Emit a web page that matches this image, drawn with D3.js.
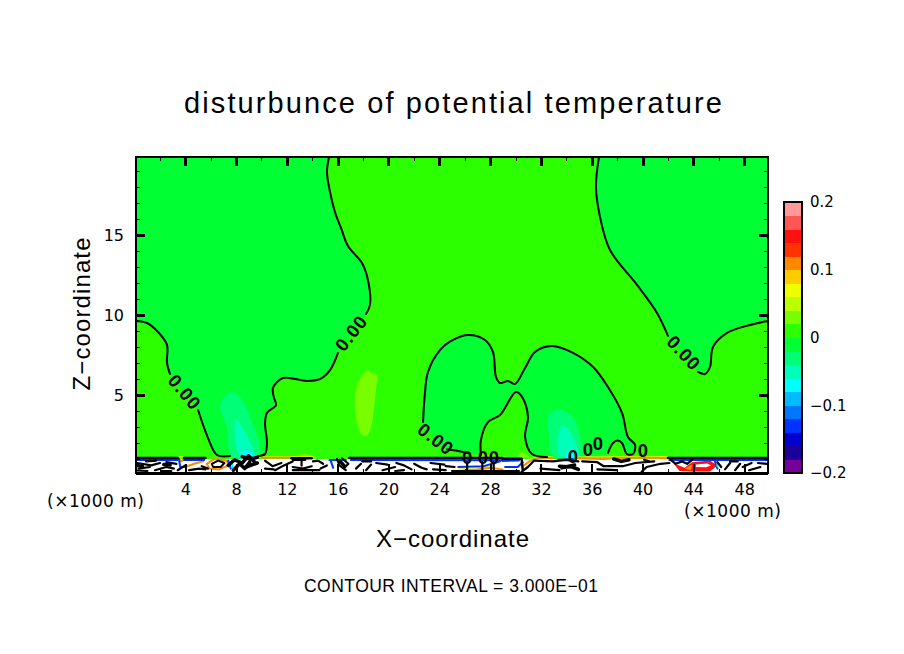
<!DOCTYPE html>
<html><head><meta charset="utf-8">
<script src="https://cdn.jsdelivr.net/npm/d3@7"></script>
<style>
html,body{margin:0;padding:0;background:#fff}
svg{display:block}
text{font-family:"Liberation Sans",Arial,sans-serif;fill:#000}
</style></head><body><div id="chart"></div>
<script>
// Colour levels, from -0.2 to 0.2 in steps of 0.02
const levelColors=["#770099","#1a0099","#0000cc","#0033ff","#0077ff","#00bbff","#00ffff","#00ffbb","#00ff77","#00ff33",
"#2bff00","#77ff00","#bbff00","#eeff00","#ffcc00","#ff8800","#ff3300","#ff1111","#ff5555","#ff9999"];
const colorbarTicks=[-0.2,-0.1,0,0.1,0.2];
const xTickValues=[4,8,12,16,20,24,28,32,36,40,44,48];
const zTickValues=[5,10,15];

// Zero contours, [x km, z km]
const contourA=[[15.27,19.88],[15.11,18.94],[15.35,17.69],[15.74,16.44],[16.22,15.44],[16.77,14.31],[17.88,13.25],[18.35,12.19],[18.51,10.63],[18.2,10.06]];
const contourA2=[[15.98,7.63],[15.35,6.56],[14.56,6],[13.53,5.88],[11.63,6.06],[10.84,5.44],[10.92,4.81],[11.08,4.38],[10.36,3.88],[10.21,3.25],[10.36,2],[10.21,1.31],[9.65,1.19]];
const contourB=[[0,9.63],[0.87,9.5],[1.74,8.94],[2.45,8.13],[2.45,7],[2.69,6.31]];
const contourB2=[[4.91,4.06],[5.7,2.31],[6.41,1.25],[7.44,1.19]];
const contourC=[[22.71,3.31],[22.86,5.13],[23.1,6.44],[24.05,7.81],[25.08,8.44],[26.27,8.75],[27.61,8.44],[28.24,7.69],[28.48,6.13],[28.8,5.75],[29.43,5.88],[29.98,5.69],[30.78,6.69],[31.57,7.69],[32.91,8.06],[34.57,7.63],[36.16,6.75],[37.34,5.5],[38.45,3.88],[38.92,2.38],[39.48,1.88],[39.32,1.31],[38.84,1.31],[38.45,2],[38.1,2.15],[37.74,2],[37.34,1.38]];
const contourC2=[[24.6,1.6],[25,1.56],[25.87,1.44],[26.4,1.35]];
const contourInner=[[27.29,1.25],[27.29,2.19],[27.85,3.31],[28.8,3.75],[30.06,5.19],[30.54,4.88],[31.01,3.63],[30.78,2.38],[31.33,1.31],[32.52,1.13]];
const contourD=[[36.63,19.88],[36.39,18],[36.71,16.13],[37.5,14.06],[39.64,11.88],[41.22,10.13],[42.09,8.69]];
const contourD2=[[44.46,6.44],[45.02,6.31],[45.41,6.75],[45.65,8],[46.76,8.88],[48.58,9.38],[50,9.63]];

// Shaded plumes
const plumeWarm=[[17.4,5.3],[17.69,6],[18.35,6.56],[18.51,6.44],[19.07,6.25],[19,5.44],[18.35,2.5],[17.88,2.5],[17.3,4.25]];
const plume1Outer=[[6.65,4.38],[7.6,5.19],[8.54,4.5],[9.2,3.25],[9.8,1.75],[9.65,1.1],[7.6,1.1],[7.2,3]];
const plume1Inner=[[7.9,3.5],[8.6,2.7],[9.35,1.2],[8.2,1.2]];
const plume1Core=[[8.4,1.5],[9,1.5],[9.5,1.1],[8.2,1.1]];
const plume2Outer=[[32.6,3.63],[33.4,4.13],[34.4,3.75],[35,2.81],[35.2,1.25],[32.9,1.25],[32.7,2.38]];
const plume2Inner=[[33.7,3.13],[34.5,2.5],[34.95,1.25],[33.5,1.25]];
const plume2Core=[[34.2,1.56],[34.8,1.5],[35,1.1],[34,1.1]];
const warmBands=[[[12.4,1.1],[13.3,1.35],[14.4,1.1]],[[26.6,1.1],[27,1.3],[28.5,1.25],[29.6,1.1]],[[30,1.1],[30.6,1.45],[31.2,1.1]]];

// Near-surface tangle of contours
const stripBlackLines=[
[[0.1,.75],[1.2,.6],[1.9,.75]],[[.2,.4],[1.1,.5]],[[1.5,.3],[2.4,.5],[3,.4]],[[2.4,.8],[3.2,.7]],[[3.3,.3],[3.9,.6]],[[0,.28],[.9,.25]],[[.8,.85],[1.6,.9]],[[2,.25],[2.8,.25]],
[[4.2,.3],[5,.4],[5.5,.35]],[[5.2,.55],[5.7,.4]],
[[10.2,.9],[10.8,.55],[11.5,.75]],[[11,.3],[11.7,.6],[12.4,.85]],[[12.4,.5],[13.2,.4],[13.9,.55]],[[10.2,.4],[10.9,.35]],[[12.4,.95],[13.4,.95]],[[13.1,.9],[13.1,.6]],[[14,.85],[14.4,.9],[14.8,.7]],[[12.4,.3],[14.5,.3]],[[14.6,.4],[15.1,.6]],
[[15.9,1],[16.1,.6],[16.6,.3]],[[16.3,1.05],[16.8,.7],[16.5,.45]],
[[17.4,.4],[17.8,.7]],[[18.2,.3],[18.6,.65]],[[19,.75],[19.9,.65]],[[19.5,.3],[20.5,.5]],[[20.6,.75],[21.2,.6],[21.8,.35]],[[22,.7],[22.6,.45],[23,.35]],[[23.3,.75],[24.4,.65]],[[23.5,.35],[24.5,.3]],[[24.5,.55],[25.2,.5]],[[17.9,.85],[18.6,.85]],[[20.5,.25],[21.2,.3]],
[[26.2,.3],[26.2,.8]],[[27.4,.3],[27.4,.8]],[[28.3,.3],[28.3,.8]],[[25,.25],[30.3,.25]],[[30.5,.2],[31,.5],[31.5,.9]],
[[31.5,.9],[33,.85],[34,.95],[35,.85]],[[32,.4],[33.5,.3]],[[35.3,.85],[36.5,.8],[37,.55],[38.5,.55],[39.5,.75],[41,.85]],[[36.5,.35],[38,.3]],[[40.2,.95],[40.6,.85]],[[40,.2],[40.4,.5],[41.5,.7],[42.2,.75]],
[[42.3,.95],[42.7,.7],[43.2,.85],[43.6,.7],[44,.95]],
[[46.6,.35],[47,.75]],[[47.4,.3],[47.8,.7]],[[48,.5],[48.7,.75]],[[48.5,.3],[49.4,.5]],[[49.2,.75],[49.9,.7]],[[46,.8],[46.3,.5]],[[47,.85],[47.6,.85]]];
const stripBlackHeavy=[[[7.3,.6],[7.8,.95],[8.4,.75],[8.9,1.2],[9.4,.8]],[[7.7,.3],[8.2,.7],[8.6,.4],[9,.8]],[[8.4,1.15],[9,1],[9.6,1.1]],[[8.7,.5],[9.6,.75]],[[33.5,.55],[34.5,.5],[35,.35]],[[33.7,.45],[34.7,.62]],[[37.8,1],[38.4,.85],[39,.95]],[[16.1,.9],[16.5,.55]],[[0,.6],[.5,.55]],[[2.2,.65],[2.7,.62]]];
const stripEllipse=[[6,.7],[6.5,.9],[7,.75],[6.7,.5],[6.1,.5],[6,.7]];
const stripTopBlack=[[[0,1.06],[3.3,1.06]],[[3.8,1.06],[5.5,1.06]],[[12.3,1.04],[13.9,1.04]],[[16.85,1.06],[29,1.06]],[[29,1.02],[30.5,1.02],[30.6,.3]],[[42.1,1.06],[50,1.06]]];
const stripBlueLines=[[[0,.94],[3.3,.94]],[[3.8,.94],[5.4,.94]],[[3.4,1],[3.5,.5],[3.9,.5]],[[7.3,.9],[7.5,.4]],[[15.3,.94],[16.6,.94]],[[15.4,.9],[15.6,.45]],[[17,.94],[29,.92]],[[29,.88],[30.3,.9]],[[25.5,.5],[27.5,.55],[28.8,.85]],[[29.2,.5],[30.2,.5],[30.6,.8]],[[42.2,.93],[50,.93]],[[45.8,.85],[46,.4]],[[33.4,.95],[34.6,1]]];
const stripOrangeLines=[[[3.3,1.02],[3.6,.85],[3.8,1.02]],[[3.9,.5],[4.6,.7],[5.3,.85]],[[5.6,.7],[6.2,1],[7.2,.9],[7.3,.6],[6.6,.35],[5.8,.4],[5.6,.7]],[[10,1.08],[12.2,1.1]],[[30.6,.55],[31.2,.9],[32,1.1],[33,1.05]],[[35,1.05],[37,1],[38,1.05],[40,1.1],[42,1.05]],[[25.5,.25],[27,.35],[28,.45],[29,.35]],[[13.1,.5],[13.3,.3]]];
const stripYellowLines=[[[3.2,1.1],[3.7,1.15]],[[9.7,1.13],[14,1.15]],[[31.2,1.05],[32,1.18],[33,1.12]],[[35,1.13],[42,1.15]],[[25.5,.37],[27,.45],[28,.55]]];
const stripRedBlob=[[42.5,.75],[43.4,.45],[44,.8],[45.4,.9],[46,.6],[45.4,.22],[44,.22],[43,.25]];
const stripOrangeBlob=[[43.4,.4],[44,.65],[43.9,.3]];
const stripWhiteBlob=[[44.3,.66],[45.2,.72],[45.5,.6],[45.1,.48],[44.3,.5]];
const stripCyanSpots=[[[46,.55],[46,.75]],[[7.6,.65],[7.7,.3]],[[34.6,1.1],[34.9,1.1]]];

// Contour labels and ring fragments
const contourLabels=[["0.00",3.86,5.19,50],["0.00",17.01,8.88,-52],["0.00",23.73,2.25,38],["0.00",43.35,7.63,47]];
const ringLabels=[[26.19,1.13],[27.45,1.13],[28.32,1.13],[34.57,1.19],[35.76,1.63],[36.55,2],[40.11,1.56]];

const W=904,H=654;
const svg=d3.select("#chart").append("svg").attr("width",W).attr("height",H);
const L=136,R=768,T=157,B=473;
const tickFont="'DejaVu Sans'";
const xAxisScale=d3.scaleLinear().domain([0.125,49.875]).range([L,R]);
const x=d3.scaleLinear().domain([0,50]).range([L,R]);
const z=d3.scaleLinear().domain([0.125,19.875]).range([B,T]);
const line=d3.line().x(d=>x(d[0])).y(d=>z(d[1]));
const curve=d3.line().x(d=>x(d[0])).y(d=>z(d[1])).curve(d3.curveCatmullRom.alpha(.5));
const sm=d3.line().x(d=>x(d[0])).y(d=>z(d[1])).curve(d3.curveCatmullRomClosed.alpha(.5));
const col=v=>levelColors[Math.floor((v+0.2)/0.02+1e-6)];
const warm=col(0.01),cool=col(-0.01),lev2=col(-0.03),lev3=col(-0.05),lev4=col(-0.07),warm2=col(0.03);

svg.append("defs").append("clipPath").attr("id","pc").append("rect").attr("x",L).attr("y",T).attr("width",R-L).attr("height",B-T);
const g=svg.append("g").attr("clip-path","url(#pc)");
const poly=(pts,fill,gen=line)=>g.append("path").attr("d",gen(pts)+(gen===line?"Z":"")).attr("fill",fill).attr("stroke","none");

g.append("rect").attr("x",L).attr("y",T).attr("width",R-L).attr("height",B-T).attr("fill",warm);
poly([[0,19.875],...contourA,...contourA2,...contourB2.slice().reverse(),...contourB.slice().reverse()],cool,sm);
poly([...contourC,...contourC2.slice().reverse()],cool,sm);
poly(contourInner,warm,sm);
poly([...contourD,...contourD2,[50,19.875]],cool);
warmBands.forEach(b=>poly(b,warm2,line));
poly(plumeWarm,warm2,sm);
poly(plume1Outer,lev2,sm);poly(plume1Inner,lev3,sm);poly(plume1Core,lev4,sm);
poly(plume2Outer,lev2,sm);poly(plume2Inner,lev3,sm);poly(plume2Core,lev4,sm);

// strip
g.append("rect").attr("x",L).attr("y",z(1.0)).attr("width",R-L).attr("height",B-z(1.0)).attr("fill","#fff");
poly(stripRedBlob,col(0.15));poly(stripOrangeBlob,col(0.11));poly(stripWhiteBlob,"#fff");
const draw=(arr,color,w,gen=line)=>g.selectAll(null).data(arr).enter().append("path").attr("d",d=>gen(d)).attr("fill","none").attr("stroke",color).attr("stroke-width",w).attr("stroke-linecap","round").attr("stroke-linejoin","round");
draw(stripYellowLines,col(0.07),1);
draw(stripOrangeLines,col(0.11),2);
draw(stripBlueLines,col(-0.13),2);
draw(stripCyanSpots,col(-0.07),2);
draw(stripTopBlack,"#000",2.5);
draw(stripBlackLines,"#000",2.2);
draw(stripBlackHeavy,"#000",3.5);
draw([stripEllipse],"#000",2);

// contours
draw([contourA,contourA2,contourB,contourB2,contourC,contourC2,contourInner,contourD,contourD2],"#000",2,curve);

// contour labels
svg.selectAll(null).data(contourLabels).enter().append("text")
 .attr("transform",d=>`translate(${x(d[1])},${z(d[2])}) rotate(${d[3]})`)
 .attr("text-anchor","middle").attr("dy","0.36em").attr("font-size",18.5).attr("font-weight","bold").attr("letter-spacing",1)
 .text(d=>d[0]);
svg.selectAll(null).data(ringLabels).enter().append("text")
 .attr("x",d=>x(d[0])).attr("y",d=>z(d[1])).attr("text-anchor","middle").attr("dy","0.36em").attr("font-size",18.5).attr("font-weight","bold").text("0");

// axes
const styleAxis=(s,w)=>{s.select(".domain").remove();s.selectAll("line").attr("stroke","#000").attr("stroke-width",w).attr("shape-rendering","crispEdges");};
const xMinor=d3.range(2,50,4), zMinor=d3.range(1,20).filter(v=>v%5);
const ax=(gen,tr,w,lab)=>{const a=svg.append("g").attr("transform",tr).call(gen);styleAxis(a,w);if(!lab)a.selectAll("text").remove();return a;};
ax(d3.axisTop(xAxisScale).tickValues(xTickValues).tickSize(9).tickFormat(""),`translate(0,${T})`,3).selectAll("line").attr("y2",9);
ax(d3.axisTop(xAxisScale).tickValues(xMinor).tickSize(4).tickFormat(""),`translate(0,${T})`,1).selectAll("line").attr("y2",4);
const xb=ax(d3.axisBottom(xAxisScale).tickValues(xTickValues).tickSize(9).tickPadding(0).tickFormat(d3.format("d")),`translate(0,${B})`,2,true);
xb.selectAll("line").attr("y2",-9);
xb.selectAll("text").attr("font-size",16).style("font-family",tickFont).attr("dy",null).attr("y",22);
ax(d3.axisBottom(xAxisScale).tickValues(xMinor).tickSize(4).tickFormat(""),`translate(0,${B})`,1).selectAll("line").attr("y2",-4);
const zl=ax(d3.axisLeft(z).tickValues(zTickValues).tickSize(9).tickFormat(d3.format("d")),`translate(${L},0)`,3,true);
zl.selectAll("line").attr("x2",9);
zl.selectAll("text").attr("font-size",16).style("font-family",tickFont).attr("x",-12);
ax(d3.axisLeft(z).tickValues(zMinor).tickSize(4).tickFormat(""),`translate(${L},0)`,1).selectAll("line").attr("x2",4);
ax(d3.axisRight(z).tickValues(zTickValues).tickSize(9).tickFormat(""),`translate(${R},0)`,3).selectAll("line").attr("x2",-9);
ax(d3.axisRight(z).tickValues(zMinor).tickSize(4).tickFormat(""),`translate(${R},0)`,1).selectAll("line").attr("x2",-4);
svg.append("rect").attr("x",L).attr("y",T).attr("width",R-L).attr("height",B-T).attr("fill","none").attr("stroke","#000").attr("stroke-width",2).attr("shape-rendering","crispEdges");
svg.append("line").attr("x1",L).attr("x2",R).attr("y1",B+1).attr("y2",B+1).attr("stroke","#000").attr("stroke-width",2).attr("shape-rendering","crispEdges");

// colorbar
const cb=d3.scaleLinear().domain([-0.2,0.2]).range([473,202]);
svg.selectAll(null).data(levelColors).enter().append("rect")
 .attr("x",784).attr("width",18)
 .attr("y",(d,i)=>cb(-0.2+(i+1)*0.02)).attr("height",(d,i)=>cb(-0.2+i*0.02)-cb(-0.2+(i+1)*0.02)+0.5)
 .attr("fill",d=>d).attr("shape-rendering","crispEdges");
svg.append("rect").attr("x",784).attr("y",202).attr("width",18).attr("height",271).attr("fill","none").attr("stroke","#000").attr("stroke-width",2).attr("shape-rendering","crispEdges");
const cbFmt=v=>v===0?"0":(v<0?"\u2212":"")+Math.abs(v).toFixed(1);
svg.selectAll(null).data(colorbarTicks).enter().append("text").attr("x",810).attr("y",d=>cb(d)).attr("dy","0.36em").attr("font-size",15).style("font-family",tickFont).text(cbFmt);

// texts
const t=(s,cx,cy,fs,len,rot,fam)=>{const e=svg.append("text").attr("text-anchor","middle").attr("font-size",fs).attr("textLength",len).attr("lengthAdjust","spacing").text(s);
 if(fam)e.style("font-family",fam);
 e.attr("transform",`translate(${cx},${cy})`+(rot?` rotate(${rot})`:""));return e;};
t("disturbunce of potential temperature",453,113,29,538);
t("X\u2212coordinate",452.5,547,24,153);
t("Z\u2212coordinate",90,314,24,153,-90);
t("CONTOUR INTERVAL = 3.000E\u221201",451,592,17.5,294);
t("(\u00d71000 m)",95.5,507,17,97,0,tickFont);
t("(\u00d71000 m)",732.5,517,17,97,0,tickFont);
</script></body></html>
